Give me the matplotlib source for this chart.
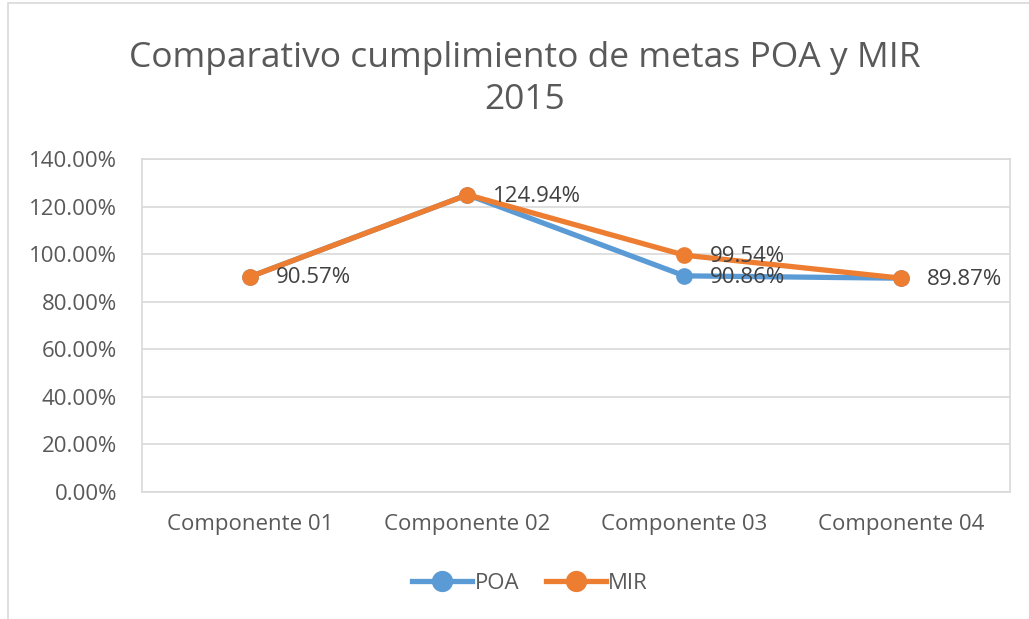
import matplotlib
matplotlib.use("Agg")
from matplotlib import pyplot as plt
from matplotlib.patches import Rectangle
from matplotlib.ticker import FuncFormatter

categories = ['Componente 01', 'Componente 02', 'Componente 03', 'Componente 04']
poa = [90.57, 124.94, 90.86, 89.87]
mir = [90.57, 124.94, 99.54, 89.87]
y_ticks = [0, 20, 40, 60, 80, 100, 120, 140]

plt.rcParams['font.family'] = ['Open Sans', 'DejaVu Sans']

fig = plt.figure(figsize=(10.29, 6.19), dpi=100)
ax = fig.add_axes([0.138, 0.2052, 0.8435, 0.538])

# chart border (Excel style)
fig.patches.append(Rectangle((8 / 1029, -0.1), 1.2, 1.1 - 3 / 619,
                             transform=fig.transFigure, fill=False,
                             edgecolor='#d9d9d9', linewidth=1.2))

x = range(len(categories))
ax.plot(x, poa, color='#5B9BD5', linewidth=3.8, marker='o', markersize=11,
        label='POA', zorder=3)
ax.plot(x, mir, color='#ED7D31', linewidth=3.8, marker='o', markersize=11,
        label='MIR', zorder=4)

for i, v in enumerate(poa):
    ax.annotate(f'{v:.2f}%', (i, v), xytext=(18, -1), textcoords='offset points',
                va='center', ha='left', fontsize=16, color='#404040', zorder=5)
for i, v in enumerate(mir):
    if v != poa[i]:
        ax.annotate(f'{v:.2f}%', (i, v), xytext=(18, -1), textcoords='offset points',
                    va='center', ha='left', fontsize=16, color='#404040', zorder=5)

ax.set_xlim(-0.5, 3.5)
ax.set_ylim(0, 140)
ax.set_yticks(y_ticks)
ax.yaxis.set_major_formatter(FuncFormatter(lambda v, p: f'{v:.2f}%'))
ax.set_xticks(list(x))
ax.set_xticklabels(categories)
ax.tick_params(axis='both', length=0, labelsize=16, colors='#595959')
ax.tick_params(axis='x', pad=16)
ax.tick_params(axis='y', pad=18)
ax.grid(axis='y', color='#d9d9d9', linewidth=1.2)
ax.set_axisbelow(True)
for s in ax.spines.values():
    s.set_color('#d9d9d9')
    s.set_linewidth(1.2)

fig.text(0.51, 0.873, 'Comparativo cumplimiento de metas POA y MIR\n2015',
         ha='center', va='center', fontsize=25.5, color='#595959',
         linespacing=1.3)

fig.legend(loc='center', bbox_to_anchor=(0.515, 0.058), ncol=2, frameon=False,
           fontsize=16, labelcolor='#595959', handlelength=2.7,
           handletextpad=0.1, columnspacing=1.2, markerscale=1.3)

fig.savefig('out.png', dpi=100)
